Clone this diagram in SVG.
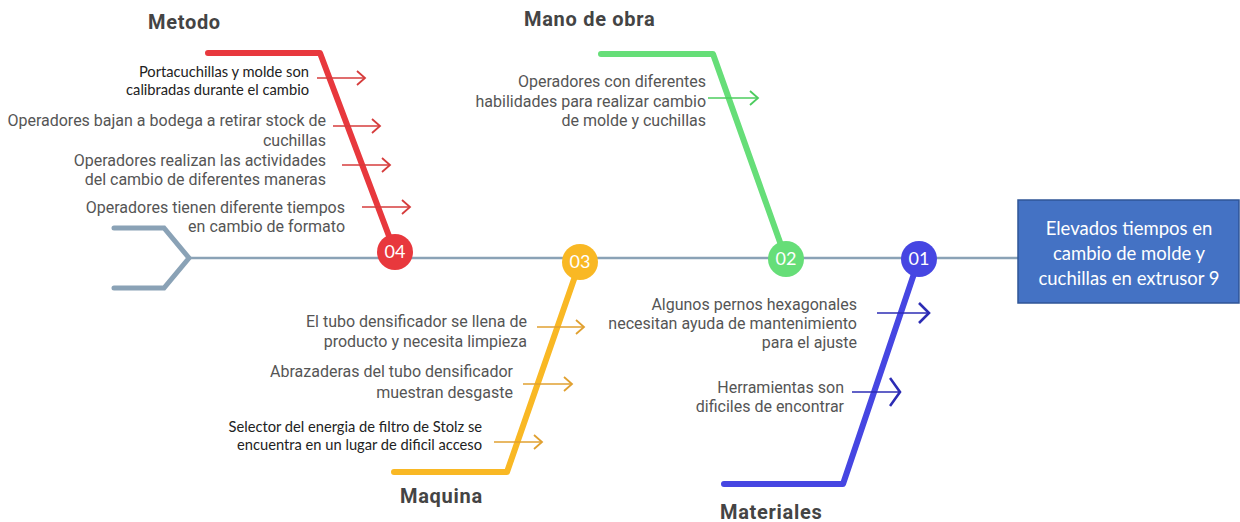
<svg xmlns="http://www.w3.org/2000/svg" width="1240" height="522" viewBox="0 0 1240 522">
<defs>
<style>
.t{font-family:Roboto,"Liberation Sans",sans-serif;font-size:16px;fill:#555;text-anchor:end}
.c{font-family:Lato,"Liberation Sans",sans-serif;font-size:14.7px;fill:#222;text-anchor:end}
.h{font-family:Roboto,"Liberation Sans",sans-serif;font-size:20px;font-weight:bold;fill:#444;letter-spacing:0.7px}
.n{font-family:Lato,"Liberation Sans",sans-serif;font-size:18px;fill:#fff;text-anchor:middle}
.box{font-family:Lato,"Liberation Sans",sans-serif;font-size:18.5px;fill:#fff;text-anchor:middle}
.bone{fill:none;stroke-width:6;stroke-linecap:round;stroke-linejoin:round}
.ar{fill:none;stroke-width:1.6}
</style>
<marker id="mr" markerUnits="userSpaceOnUse" markerWidth="12" markerHeight="18" refX="9" refY="8" orient="auto"><path d="M1,1 L9,8 L1,15" fill="none" stroke="#d63c3c" stroke-width="1.8"/></marker>
<marker id="mg" markerUnits="userSpaceOnUse" markerWidth="12" markerHeight="18" refX="9" refY="8" orient="auto"><path d="M1,1 L9,8 L1,15" fill="none" stroke="#4ccc5e" stroke-width="1.8"/></marker>
<marker id="my" markerUnits="userSpaceOnUse" markerWidth="12" markerHeight="18" refX="9" refY="8" orient="auto"><path d="M1,1 L9,8 L1,15" fill="none" stroke="#e0a030" stroke-width="1.8"/></marker>
<marker id="mb" markerUnits="userSpaceOnUse" markerWidth="14" markerHeight="24" refX="11" refY="11" orient="auto"><path d="M1,1 L11,11 L1,21" fill="none" stroke="#2c2cb4" stroke-width="2.6"/></marker>
<marker id="mb2" markerUnits="userSpaceOnUse" markerWidth="14" markerHeight="32" refX="11" refY="15" orient="auto"><path d="M1,1 L11,15 L1,29" fill="none" stroke="#2c2cb4" stroke-width="2.6"/></marker>
</defs>
<rect width="1240" height="522" fill="#fff"/>

<g id="connectors">
<line x1="190" y1="258" x2="1018" y2="258" stroke="#8aa2b6" stroke-width="2.5"/>
<polyline points="114,228 164,228 189,258 164,288 114,288" fill="none" stroke="#8aa2b6" stroke-width="5" stroke-linecap="round" stroke-linejoin="miter"/>
<polyline class="bone" stroke="#e8383d" points="208,53 320,53 395,252"/>
<polyline class="bone" stroke="#66de78" points="601,54 713,54 786,259"/>
<polyline class="bone" stroke="#f9b824" points="580,262 507,472 394,472"/>
<polyline class="bone" stroke="#4646e2" points="919,259 843,484 724,484"/>
<line class="ar" stroke="#d63c3c" x1="317" y1="78" x2="365" y2="78" marker-end="url(#mr)"/>
<line class="ar" stroke="#d63c3c" x1="333" y1="126" x2="380" y2="126" marker-end="url(#mr)"/>
<line class="ar" stroke="#d63c3c" x1="342" y1="165" x2="390" y2="165" marker-end="url(#mr)"/>
<line class="ar" stroke="#d63c3c" x1="362" y1="207" x2="410" y2="207" marker-end="url(#mr)"/>
<line class="ar" stroke="#4ccc5e" x1="708" y1="98" x2="758" y2="98" marker-end="url(#mg)"/>
<line class="ar" stroke="#e0a030" x1="537" y1="327" x2="584" y2="327" marker-end="url(#my)"/>
<line class="ar" stroke="#e0a030" x1="523" y1="384" x2="572" y2="384" marker-end="url(#my)"/>
<line class="ar" stroke="#e0a030" x1="494" y1="442" x2="542" y2="442" marker-end="url(#my)"/>
<line class="ar" stroke="#2c2cb4" stroke-width="2.6" x1="877" y1="313" x2="929" y2="313" marker-end="url(#mb)"/>
<line class="ar" stroke="#2c2cb4" stroke-width="2.6" x1="852" y1="392" x2="900" y2="392" marker-end="url(#mb2)"/>
</g>

<g id="metodo">
<text class="h" x="148" y="29">Metodo</text>
<circle cx="395" cy="252" r="18" fill="#e8383d"/>
<text class="n" x="395" y="258">04</text>
<text class="c" x="309" y="77">Portacuchillas y molde son</text>
<text class="c" x="309" y="95">calibradas durante el cambio</text>
<text class="t" x="326" y="126">Operadores bajan a bodega a retirar stock de</text>
<text class="t" x="326" y="146">cuchillas</text>
<text class="t" x="326" y="166">Operadores realizan las actividades</text>
<text class="t" x="326" y="185">del cambio de diferentes maneras</text>
<text class="t" x="345" y="213">Operadores tienen diferente tiempos</text>
<text class="t" x="345" y="232">en cambio de formato</text>
</g>

<g id="mano-de-obra">
<text class="h" x="524" y="26">Mano de obra</text>
<circle cx="786" cy="259" r="18" fill="#66de78"/>
<text class="n" x="786" y="265">02</text>
<text class="t" x="706" y="87">Operadores con diferentes</text>
<text class="t" x="706" y="107">habilidades para realizar cambio</text>
<text class="t" x="706" y="126">de molde y cuchillas</text>
</g>

<g id="maquina">
<text class="h" x="400" y="503">Maquina</text>
<circle cx="580" cy="262" r="18" fill="#f9b824"/>
<text class="n" x="580" y="268">03</text>
<text class="t" x="527" y="327">El tubo densificador se llena de</text>
<text class="t" x="527" y="347">producto y necesita limpieza</text>
<text class="t" x="513" y="377">Abrazaderas del tubo densificador</text>
<text class="t" x="513" y="398">muestran desgaste</text>
<text class="c" x="482" y="432">Selector del energia de filtro de Stolz se</text>
<text class="c" x="482" y="450">encuentra en un lugar de dificil acceso</text>
</g>

<g id="materiales">
<text class="h" x="720" y="519">Materiales</text>
<circle cx="919" cy="259" r="18" fill="#4646e2"/>
<text class="n" x="919" y="265">01</text>
<text class="t" x="857" y="310">Algunos pernos hexagonales</text>
<text class="t" x="857" y="329">necesitan ayuda de mantenimiento</text>
<text class="t" x="857" y="348">para el ajuste</text>
<text class="t" x="844" y="393">Herramientas son</text>
<text class="t" x="844" y="412">dificiles de encontrar</text>
</g>

<g id="efecto">
<rect x="1018" y="200" width="221" height="103" fill="#4472c4" stroke="#2f5597" stroke-width="1.5"/>
<text class="box" x="1129" y="235">Elevados tiempos en</text>
<text class="box" x="1129" y="260">cambio de molde y</text>
<text class="box" x="1129" y="285">cuchillas en extrusor 9</text>
</g>
</svg>
